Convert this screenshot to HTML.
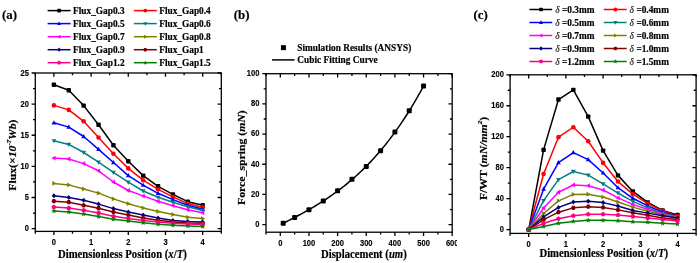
<!DOCTYPE html>
<html><head><meta charset="utf-8"><title>Figure</title>
<style>html,body{margin:0;padding:0;background:#fff;width:700px;height:263px;overflow:hidden}svg{display:block}</style>
</head><body>
<svg width="700" height="263" viewBox="0 0 700 263">
<rect width="700" height="263" fill="#fff"/>
<defs><clipPath id="clipb"><rect x="226" y="0" width="231" height="263"/></clipPath></defs>
<text transform="translate(2 19) scale(0.97 1)" font-family="'Liberation Serif','Times New Roman',serif" font-size="13.3" font-weight="bold" text-anchor="start" stroke="#000" stroke-width="0.2">(a)</text>
<text transform="translate(233.8 19) scale(0.97 1)" font-family="'Liberation Serif','Times New Roman',serif" font-size="13.3" font-weight="bold" text-anchor="start" stroke="#000" stroke-width="0.2">(b)</text>
<text transform="translate(473.5 19) scale(0.97 1)" font-family="'Liberation Serif','Times New Roman',serif" font-size="13.3" font-weight="bold" text-anchor="start" stroke="#000" stroke-width="0.2">(c)</text>
<path d="M47.6 10.6h23" stroke="#000000" stroke-width="1.5"/>
<rect x="57.25" y="8.75" width="3.7" height="3.7" rx="0.74" fill="#000000"/>
<text transform="translate(73 14) scale(0.91 1)" font-family="'Liberation Serif','Times New Roman',serif" font-size="10.26" font-weight="bold" text-anchor="start" stroke="#000" stroke-width="0.2">Flux_Gap0.3</text>
<path d="M133.8 10.6h23" stroke="#FF0000" stroke-width="1.5"/>
<circle cx="145.3" cy="10.6" r="1.94" fill="#FF0000"/>
<text transform="translate(159.2 14) scale(0.91 1)" font-family="'Liberation Serif','Times New Roman',serif" font-size="10.26" font-weight="bold" text-anchor="start" stroke="#000" stroke-width="0.2">Flux_Gap0.4</text>
<path d="M47.6 23.6h23" stroke="#0000FF" stroke-width="1.5"/>
<polygon points="59.1,21.47 61.12,24.98 57.08,24.98" fill="#0000FF"/>
<text transform="translate(73 27) scale(0.91 1)" font-family="'Liberation Serif','Times New Roman',serif" font-size="10.26" font-weight="bold" text-anchor="start" stroke="#000" stroke-width="0.2">Flux_Gap0.5</text>
<path d="M133.8 23.6h23" stroke="#008080" stroke-width="1.5"/>
<polygon points="145.3,25.73 147.32,22.22 143.28,22.22" fill="#008080"/>
<text transform="translate(159.2 27) scale(0.91 1)" font-family="'Liberation Serif','Times New Roman',serif" font-size="10.26" font-weight="bold" text-anchor="start" stroke="#000" stroke-width="0.2">Flux_Gap0.6</text>
<path d="M47.6 36.7h23" stroke="#FF00FF" stroke-width="1.5"/>
<polygon points="56.97,36.7 60.48,38.72 60.48,34.68" fill="#FF00FF"/>
<text transform="translate(73 40.1) scale(0.91 1)" font-family="'Liberation Serif','Times New Roman',serif" font-size="10.26" font-weight="bold" text-anchor="start" stroke="#000" stroke-width="0.2">Flux_Gap0.7</text>
<path d="M133.8 36.7h23" stroke="#808000" stroke-width="1.5"/>
<polygon points="147.43,36.7 143.92,38.72 143.92,34.68" fill="#808000"/>
<text transform="translate(159.2 40.1) scale(0.91 1)" font-family="'Liberation Serif','Times New Roman',serif" font-size="10.26" font-weight="bold" text-anchor="start" stroke="#000" stroke-width="0.2">Flux_Gap0.8</text>
<path d="M47.6 49.7h23" stroke="#000080" stroke-width="1.5"/>
<polygon points="59.1,47.57 60.91,49.7 59.1,51.83 57.29,49.7" fill="#000080"/>
<text transform="translate(73 53.1) scale(0.91 1)" font-family="'Liberation Serif','Times New Roman',serif" font-size="10.26" font-weight="bold" text-anchor="start" stroke="#000" stroke-width="0.2">Flux_Gap0.9</text>
<path d="M133.8 49.7h23" stroke="#800000" stroke-width="1.5"/>
<polygon points="147.34,49.7 146.32,51.46 144.28,51.46 143.27,49.7 144.28,47.94 146.32,47.94" fill="#800000"/>
<text transform="translate(159.2 53.1) scale(0.91 1)" font-family="'Liberation Serif','Times New Roman',serif" font-size="10.26" font-weight="bold" text-anchor="start" stroke="#000" stroke-width="0.2">Flux_Gap1</text>
<path d="M47.6 62.7h23" stroke="#FF0080" stroke-width="1.5"/>
<polygon points="59.1,60.57 61.12,62.04 60.35,64.42 57.85,64.42 57.08,62.04" fill="#FF0080"/>
<text transform="translate(73 66.1) scale(0.91 1)" font-family="'Liberation Serif','Times New Roman',serif" font-size="10.26" font-weight="bold" text-anchor="start" stroke="#000" stroke-width="0.2">Flux_Gap1.2</text>
<path d="M133.8 62.7h23" stroke="#008000" stroke-width="1.5"/>
<polygon points="145.3,60.3 145.9,61.88 147.59,61.96 146.27,63.01 146.71,64.65 145.3,63.72 143.89,64.65 144.33,63.01 143.01,61.96 144.7,61.88" fill="#008000"/>
<text transform="translate(159.2 66.1) scale(0.91 1)" font-family="'Liberation Serif','Times New Roman',serif" font-size="10.26" font-weight="bold" text-anchor="start" stroke="#000" stroke-width="0.2">Flux_Gap1.5</text>
<rect x="35.3" y="73" width="186" height="158.4" fill="none" stroke="#000" stroke-width="1.3"/>
<path d="M53.9 231.4v3.7M53.9 73v3.7M91.1 231.4v3.7M91.1 73v3.7M128.3 231.4v3.7M128.3 73v3.7M165.5 231.4v3.7M165.5 73v3.7M202.7 231.4v3.7M202.7 73v3.7M35.3 231.4v2.3M35.3 73v2.3M72.5 231.4v2.3M72.5 73v2.3M109.7 231.4v2.3M109.7 73v2.3M146.9 231.4v2.3M146.9 73v2.3M184.1 231.4v2.3M184.1 73v2.3M221.3 231.4v2.3M221.3 73v2.3M35.3 228.6h-3.7M221.3 228.6h-3.7M35.3 197.48h-3.7M221.3 197.48h-3.7M35.3 166.36h-3.7M221.3 166.36h-3.7M35.3 135.24h-3.7M221.3 135.24h-3.7M35.3 104.12h-3.7M221.3 104.12h-3.7M35.3 73h-3.7M221.3 73h-3.7M35.3 213.04h-2.3M221.3 213.04h-2.3M35.3 181.92h-2.3M221.3 181.92h-2.3M35.3 150.8h-2.3M221.3 150.8h-2.3M35.3 119.68h-2.3M221.3 119.68h-2.3M35.3 88.56h-2.3M221.3 88.56h-2.3" stroke="#000" stroke-width="1.3" fill="none"/>
<polyline points="53.9,84.8 68.78,90.2 83.66,105.6 98.54,124.8 113.42,145.3 128.3,161.3 143.18,175.6 158.06,186.3 172.94,194.4 187.82,201.7 202.7,205.3" fill="none" stroke="#000000" stroke-width="1.5" stroke-linejoin="round"/>
<rect x="51.7" y="82.6" width="4.4" height="4.4" rx="0.88" fill="#000000"/>
<rect x="66.58" y="88" width="4.4" height="4.4" rx="0.88" fill="#000000"/>
<rect x="81.46" y="103.4" width="4.4" height="4.4" rx="0.88" fill="#000000"/>
<rect x="96.34" y="122.6" width="4.4" height="4.4" rx="0.88" fill="#000000"/>
<rect x="111.22" y="143.1" width="4.4" height="4.4" rx="0.88" fill="#000000"/>
<rect x="126.1" y="159.1" width="4.4" height="4.4" rx="0.88" fill="#000000"/>
<rect x="140.98" y="173.4" width="4.4" height="4.4" rx="0.88" fill="#000000"/>
<rect x="155.86" y="184.1" width="4.4" height="4.4" rx="0.88" fill="#000000"/>
<rect x="170.74" y="192.2" width="4.4" height="4.4" rx="0.88" fill="#000000"/>
<rect x="185.62" y="199.5" width="4.4" height="4.4" rx="0.88" fill="#000000"/>
<rect x="200.5" y="203.1" width="4.4" height="4.4" rx="0.88" fill="#000000"/>
<polyline points="53.9,105.4 68.78,109.9 83.66,121.3 98.54,137.5 113.42,153.7 128.3,168.4 143.18,180.2 158.06,189.3 172.94,196.9 187.82,203.6 202.7,207.4" fill="none" stroke="#FF0000" stroke-width="1.5" stroke-linejoin="round"/>
<circle cx="53.9" cy="105.4" r="2.31" fill="#FF0000"/>
<circle cx="68.78" cy="109.9" r="2.31" fill="#FF0000"/>
<circle cx="83.66" cy="121.3" r="2.31" fill="#FF0000"/>
<circle cx="98.54" cy="137.5" r="2.31" fill="#FF0000"/>
<circle cx="113.42" cy="153.7" r="2.31" fill="#FF0000"/>
<circle cx="128.3" cy="168.4" r="2.31" fill="#FF0000"/>
<circle cx="143.18" cy="180.2" r="2.31" fill="#FF0000"/>
<circle cx="158.06" cy="189.3" r="2.31" fill="#FF0000"/>
<circle cx="172.94" cy="196.9" r="2.31" fill="#FF0000"/>
<circle cx="187.82" cy="203.6" r="2.31" fill="#FF0000"/>
<circle cx="202.7" cy="207.4" r="2.31" fill="#FF0000"/>
<polyline points="53.9,122.8 68.78,127.1 83.66,136.5 98.54,149.4 113.42,162.5 128.3,175.6 143.18,185.2 158.06,193.3 172.94,199.6 187.82,205.2 202.7,209.3" fill="none" stroke="#0000FF" stroke-width="1.5" stroke-linejoin="round"/>
<polygon points="53.9,120.27 56.3,124.44 51.5,124.44" fill="#0000FF"/>
<polygon points="68.78,124.57 71.18,128.74 66.38,128.74" fill="#0000FF"/>
<polygon points="83.66,133.97 86.06,138.14 81.26,138.14" fill="#0000FF"/>
<polygon points="98.54,146.87 100.94,151.04 96.14,151.04" fill="#0000FF"/>
<polygon points="113.42,159.97 115.82,164.14 111.02,164.14" fill="#0000FF"/>
<polygon points="128.3,173.07 130.7,177.24 125.9,177.24" fill="#0000FF"/>
<polygon points="143.18,182.67 145.58,186.84 140.78,186.84" fill="#0000FF"/>
<polygon points="158.06,190.77 160.46,194.94 155.66,194.94" fill="#0000FF"/>
<polygon points="172.94,197.07 175.34,201.24 170.54,201.24" fill="#0000FF"/>
<polygon points="187.82,202.67 190.22,206.84 185.42,206.84" fill="#0000FF"/>
<polygon points="202.7,206.77 205.1,210.94 200.3,210.94" fill="#0000FF"/>
<polyline points="53.9,140.8 68.78,144.4 83.66,152.5 98.54,162.1 113.42,172.4 128.3,182.1 143.18,191 158.06,197.3 172.94,202.2 187.82,206.8 202.7,210.5" fill="none" stroke="#008080" stroke-width="1.5" stroke-linejoin="round"/>
<polygon points="53.9,143.33 56.3,139.16 51.5,139.16" fill="#008080"/>
<polygon points="68.78,146.93 71.18,142.76 66.38,142.76" fill="#008080"/>
<polygon points="83.66,155.03 86.06,150.86 81.26,150.86" fill="#008080"/>
<polygon points="98.54,164.63 100.94,160.46 96.14,160.46" fill="#008080"/>
<polygon points="113.42,174.93 115.82,170.76 111.02,170.76" fill="#008080"/>
<polygon points="128.3,184.63 130.7,180.46 125.9,180.46" fill="#008080"/>
<polygon points="143.18,193.53 145.58,189.36 140.78,189.36" fill="#008080"/>
<polygon points="158.06,199.83 160.46,195.66 155.66,195.66" fill="#008080"/>
<polygon points="172.94,204.73 175.34,200.56 170.54,200.56" fill="#008080"/>
<polygon points="187.82,209.33 190.22,205.16 185.42,205.16" fill="#008080"/>
<polygon points="202.7,213.03 205.1,208.86 200.3,208.86" fill="#008080"/>
<polyline points="53.9,158.1 68.78,159 83.66,163.6 98.54,170.8 113.42,182 128.3,190.5 143.18,195.9 158.06,201.3 172.94,205.7 187.82,209.8 202.7,212.8" fill="none" stroke="#FF00FF" stroke-width="1.5" stroke-linejoin="round"/>
<polygon points="51.37,158.1 55.54,160.5 55.54,155.7" fill="#FF00FF"/>
<polygon points="66.25,159 70.42,161.4 70.42,156.6" fill="#FF00FF"/>
<polygon points="81.13,163.6 85.3,166 85.3,161.2" fill="#FF00FF"/>
<polygon points="96.01,170.8 100.18,173.2 100.18,168.4" fill="#FF00FF"/>
<polygon points="110.89,182 115.06,184.4 115.06,179.6" fill="#FF00FF"/>
<polygon points="125.77,190.5 129.94,192.9 129.94,188.1" fill="#FF00FF"/>
<polygon points="140.65,195.9 144.82,198.3 144.82,193.5" fill="#FF00FF"/>
<polygon points="155.53,201.3 159.7,203.7 159.7,198.9" fill="#FF00FF"/>
<polygon points="170.41,205.7 174.58,208.1 174.58,203.3" fill="#FF00FF"/>
<polygon points="185.29,209.8 189.46,212.2 189.46,207.4" fill="#FF00FF"/>
<polygon points="200.17,212.8 204.34,215.2 204.34,210.4" fill="#FF00FF"/>
<polyline points="53.9,183.4 68.78,184.9 83.66,189 98.54,193.1 113.42,198.9 128.3,203.7 143.18,207.9 158.06,211.5 172.94,214.5 187.82,217.3 202.7,218.6" fill="none" stroke="#808000" stroke-width="1.5" stroke-linejoin="round"/>
<polygon points="56.43,183.4 52.26,185.8 52.26,181" fill="#808000"/>
<polygon points="71.31,184.9 67.14,187.3 67.14,182.5" fill="#808000"/>
<polygon points="86.19,189 82.02,191.4 82.02,186.6" fill="#808000"/>
<polygon points="101.07,193.1 96.9,195.5 96.9,190.7" fill="#808000"/>
<polygon points="115.95,198.9 111.78,201.3 111.78,196.5" fill="#808000"/>
<polygon points="130.83,203.7 126.66,206.1 126.66,201.3" fill="#808000"/>
<polygon points="145.71,207.9 141.54,210.3 141.54,205.5" fill="#808000"/>
<polygon points="160.59,211.5 156.42,213.9 156.42,209.1" fill="#808000"/>
<polygon points="175.47,214.5 171.3,216.9 171.3,212.1" fill="#808000"/>
<polygon points="190.35,217.3 186.18,219.7 186.18,214.9" fill="#808000"/>
<polygon points="205.23,218.6 201.06,221 201.06,216.2" fill="#808000"/>
<polyline points="53.9,195.7 68.78,197.5 83.66,200.2 98.54,204.1 113.42,208.6 128.3,212 143.18,215.1 158.06,218.1 172.94,220.5 187.82,221.5 202.7,222" fill="none" stroke="#000080" stroke-width="1.5" stroke-linejoin="round"/>
<polygon points="53.9,193.17 56.05,195.7 53.9,198.23 51.75,195.7" fill="#000080"/>
<polygon points="68.78,194.97 70.93,197.5 68.78,200.03 66.63,197.5" fill="#000080"/>
<polygon points="83.66,197.67 85.81,200.2 83.66,202.73 81.51,200.2" fill="#000080"/>
<polygon points="98.54,201.57 100.69,204.1 98.54,206.63 96.39,204.1" fill="#000080"/>
<polygon points="113.42,206.07 115.57,208.6 113.42,211.13 111.27,208.6" fill="#000080"/>
<polygon points="128.3,209.47 130.45,212 128.3,214.53 126.15,212" fill="#000080"/>
<polygon points="143.18,212.57 145.33,215.1 143.18,217.63 141.03,215.1" fill="#000080"/>
<polygon points="158.06,215.57 160.21,218.1 158.06,220.63 155.91,218.1" fill="#000080"/>
<polygon points="172.94,217.97 175.09,220.5 172.94,223.03 170.79,220.5" fill="#000080"/>
<polygon points="187.82,218.97 189.97,221.5 187.82,224.03 185.67,221.5" fill="#000080"/>
<polygon points="202.7,219.47 204.85,222 202.7,224.53 200.55,222" fill="#000080"/>
<polyline points="53.9,201.2 68.78,202.2 83.66,205.3 98.54,208.2 113.42,212 128.3,215 143.18,218.1 158.06,220.3 172.94,222 187.82,223 202.7,223.3" fill="none" stroke="#800000" stroke-width="1.5" stroke-linejoin="round"/>
<polygon points="56.32,201.2 55.11,203.3 52.69,203.3 51.48,201.2 52.69,199.1 55.11,199.1" fill="#800000"/>
<polygon points="71.2,202.2 69.99,204.3 67.57,204.3 66.36,202.2 67.57,200.1 69.99,200.1" fill="#800000"/>
<polygon points="86.08,205.3 84.87,207.4 82.45,207.4 81.24,205.3 82.45,203.2 84.87,203.2" fill="#800000"/>
<polygon points="100.96,208.2 99.75,210.3 97.33,210.3 96.12,208.2 97.33,206.1 99.75,206.1" fill="#800000"/>
<polygon points="115.84,212 114.63,214.1 112.21,214.1 111,212 112.21,209.9 114.63,209.9" fill="#800000"/>
<polygon points="130.72,215 129.51,217.1 127.09,217.1 125.88,215 127.09,212.9 129.51,212.9" fill="#800000"/>
<polygon points="145.6,218.1 144.39,220.2 141.97,220.2 140.76,218.1 141.97,216 144.39,216" fill="#800000"/>
<polygon points="160.48,220.3 159.27,222.4 156.85,222.4 155.64,220.3 156.85,218.2 159.27,218.2" fill="#800000"/>
<polygon points="175.36,222 174.15,224.1 171.73,224.1 170.52,222 171.73,219.9 174.15,219.9" fill="#800000"/>
<polygon points="190.24,223 189.03,225.1 186.61,225.1 185.4,223 186.61,220.9 189.03,220.9" fill="#800000"/>
<polygon points="205.12,223.3 203.91,225.4 201.49,225.4 200.28,223.3 201.49,221.2 203.91,221.2" fill="#800000"/>
<polyline points="53.9,207.1 68.78,208.1 83.66,210.2 98.54,212.9 113.42,216.3 128.3,218.5 143.18,220.4 158.06,222 172.94,223.3 187.82,224 202.7,224.4" fill="none" stroke="#FF0080" stroke-width="1.5" stroke-linejoin="round"/>
<polygon points="53.9,204.57 56.31,206.32 55.39,209.15 52.41,209.15 51.49,206.32" fill="#FF0080"/>
<polygon points="68.78,205.57 71.19,207.32 70.27,210.15 67.29,210.15 66.37,207.32" fill="#FF0080"/>
<polygon points="83.66,207.67 86.07,209.42 85.15,212.25 82.17,212.25 81.25,209.42" fill="#FF0080"/>
<polygon points="98.54,210.37 100.95,212.12 100.03,214.95 97.05,214.95 96.13,212.12" fill="#FF0080"/>
<polygon points="113.42,213.77 115.83,215.52 114.91,218.35 111.93,218.35 111.01,215.52" fill="#FF0080"/>
<polygon points="128.3,215.97 130.71,217.72 129.79,220.55 126.81,220.55 125.89,217.72" fill="#FF0080"/>
<polygon points="143.18,217.87 145.59,219.62 144.67,222.45 141.69,222.45 140.77,219.62" fill="#FF0080"/>
<polygon points="158.06,219.47 160.47,221.22 159.55,224.05 156.57,224.05 155.65,221.22" fill="#FF0080"/>
<polygon points="172.94,220.77 175.35,222.52 174.43,225.35 171.45,225.35 170.53,222.52" fill="#FF0080"/>
<polygon points="187.82,221.47 190.23,223.22 189.31,226.05 186.33,226.05 185.41,223.22" fill="#FF0080"/>
<polygon points="202.7,221.87 205.11,223.62 204.19,226.45 201.21,226.45 200.29,223.62" fill="#FF0080"/>
<polyline points="53.9,211 68.78,212 83.66,214 98.54,216.6 113.42,219.3 128.3,221 143.18,222.7 158.06,224.2 172.94,225.3 187.82,226 202.7,226.5" fill="none" stroke="#008000" stroke-width="1.5" stroke-linejoin="round"/>
<polygon points="53.9,208.14 54.61,210.02 56.62,210.12 55.05,211.37 55.58,213.31 53.9,212.21 52.22,213.31 52.75,211.37 51.18,210.12 53.19,210.02" fill="#008000"/>
<polygon points="68.78,209.14 69.49,211.02 71.5,211.12 69.93,212.37 70.46,214.31 68.78,213.21 67.1,214.31 67.63,212.37 66.06,211.12 68.07,211.02" fill="#008000"/>
<polygon points="83.66,211.14 84.37,213.02 86.38,213.12 84.81,214.37 85.34,216.31 83.66,215.21 81.98,216.31 82.51,214.37 80.94,213.12 82.95,213.02" fill="#008000"/>
<polygon points="98.54,213.74 99.25,215.62 101.26,215.72 99.69,216.97 100.22,218.91 98.54,217.81 96.86,218.91 97.39,216.97 95.82,215.72 97.83,215.62" fill="#008000"/>
<polygon points="113.42,216.44 114.13,218.32 116.14,218.42 114.57,219.67 115.1,221.61 113.42,220.51 111.74,221.61 112.27,219.67 110.7,218.42 112.71,218.32" fill="#008000"/>
<polygon points="128.3,218.14 129.01,220.02 131.02,220.12 129.45,221.37 129.98,223.31 128.3,222.21 126.62,223.31 127.15,221.37 125.58,220.12 127.59,220.02" fill="#008000"/>
<polygon points="143.18,219.84 143.89,221.72 145.9,221.82 144.33,223.07 144.86,225.01 143.18,223.91 141.5,225.01 142.03,223.07 140.46,221.82 142.47,221.72" fill="#008000"/>
<polygon points="158.06,221.34 158.77,223.22 160.78,223.32 159.21,224.57 159.74,226.51 158.06,225.41 156.38,226.51 156.91,224.57 155.34,223.32 157.35,223.22" fill="#008000"/>
<polygon points="172.94,222.44 173.65,224.32 175.66,224.42 174.09,225.67 174.62,227.61 172.94,226.51 171.26,227.61 171.79,225.67 170.22,224.42 172.23,224.32" fill="#008000"/>
<polygon points="187.82,223.14 188.53,225.02 190.54,225.12 188.97,226.37 189.5,228.31 187.82,227.21 186.14,228.31 186.67,226.37 185.1,225.12 187.11,225.02" fill="#008000"/>
<polygon points="202.7,223.64 203.41,225.52 205.42,225.62 203.85,226.87 204.38,228.81 202.7,227.71 201.02,228.81 201.55,226.87 199.98,225.62 201.99,225.52" fill="#008000"/>
<text transform="translate(29 231.3) scale(0.84 1)" font-family="'Liberation Sans',Arial,sans-serif" font-size="9" font-weight="bold" text-anchor="end" stroke="#000" stroke-width="0.15">0</text>
<text transform="translate(29 200.18) scale(0.84 1)" font-family="'Liberation Sans',Arial,sans-serif" font-size="9" font-weight="bold" text-anchor="end" stroke="#000" stroke-width="0.15">5</text>
<text transform="translate(29 169.06) scale(0.84 1)" font-family="'Liberation Sans',Arial,sans-serif" font-size="9" font-weight="bold" text-anchor="end" stroke="#000" stroke-width="0.15">10</text>
<text transform="translate(29 137.94) scale(0.84 1)" font-family="'Liberation Sans',Arial,sans-serif" font-size="9" font-weight="bold" text-anchor="end" stroke="#000" stroke-width="0.15">15</text>
<text transform="translate(29 106.82) scale(0.84 1)" font-family="'Liberation Sans',Arial,sans-serif" font-size="9" font-weight="bold" text-anchor="end" stroke="#000" stroke-width="0.15">20</text>
<text transform="translate(29 75.7) scale(0.84 1)" font-family="'Liberation Sans',Arial,sans-serif" font-size="9" font-weight="bold" text-anchor="end" stroke="#000" stroke-width="0.15">25</text>
<text transform="translate(53.9 244.7) scale(0.84 1)" font-family="'Liberation Sans',Arial,sans-serif" font-size="9" font-weight="bold" text-anchor="middle" stroke="#000" stroke-width="0.15">0</text>
<text transform="translate(91.1 244.7) scale(0.84 1)" font-family="'Liberation Sans',Arial,sans-serif" font-size="9" font-weight="bold" text-anchor="middle" stroke="#000" stroke-width="0.15">1</text>
<text transform="translate(128.3 244.7) scale(0.84 1)" font-family="'Liberation Sans',Arial,sans-serif" font-size="9" font-weight="bold" text-anchor="middle" stroke="#000" stroke-width="0.15">2</text>
<text transform="translate(165.5 244.7) scale(0.84 1)" font-family="'Liberation Sans',Arial,sans-serif" font-size="9" font-weight="bold" text-anchor="middle" stroke="#000" stroke-width="0.15">3</text>
<text transform="translate(202.7 244.7) scale(0.84 1)" font-family="'Liberation Sans',Arial,sans-serif" font-size="9" font-weight="bold" text-anchor="middle" stroke="#000" stroke-width="0.15">4</text>
<text transform="translate(122.35 258.3) scale(0.91 1)" font-family="'Liberation Serif','Times New Roman',serif" font-size="11.75" font-weight="bold" text-anchor="middle" stroke="#000" stroke-width="0.2">Dimensionless Position (<tspan font-style="italic">x</tspan>/<tspan font-style="italic">T</tspan>)</text>
<text transform="translate(16.1 155.1) rotate(-90) scale(1 0.91)" font-family="'Liberation Serif','Times New Roman',serif" font-size="11.75" font-weight="bold" text-anchor="middle" stroke="#000" stroke-width="0.2">Flux(×<tspan font-style="italic">10</tspan><tspan font-style="italic" font-size="7" dy="-5.5">-7</tspan><tspan font-style="italic" dy="5.5">Wb</tspan>)</text>
<g clip-path="url(#clipb)">
<rect x="280.95" y="45.15" width="5" height="5" fill="#000"/>
<text transform="translate(297.3 51) scale(0.91 1)" font-family="'Liberation Serif','Times New Roman',serif" font-size="10.26" font-weight="bold" text-anchor="start" stroke="#000" stroke-width="0.2">Simulation Results (ANSYS)</text>
<path d="M272 59.9h22.6" stroke="#000" stroke-width="1.5"/>
<text transform="translate(297.3 63.4) scale(0.91 1)" font-family="'Liberation Serif','Times New Roman',serif" font-size="10.26" font-weight="bold" text-anchor="start" stroke="#000" stroke-width="0.2">Cubic Fitting Curve</text>
<rect x="266" y="73.7" width="186.2" height="158.5" fill="none" stroke="#000" stroke-width="1.3"/>
<path d="M280.32 232.2v3.7M280.32 73.7v3.7M308.97 232.2v3.7M308.97 73.7v3.7M337.62 232.2v3.7M337.62 73.7v3.7M366.26 232.2v3.7M366.26 73.7v3.7M394.91 232.2v3.7M394.91 73.7v3.7M423.55 232.2v3.7M423.55 73.7v3.7M452.2 232.2v3.7M452.2 73.7v3.7M266 232.2v2.3M266 73.7v2.3M294.65 232.2v2.3M294.65 73.7v2.3M323.29 232.2v2.3M323.29 73.7v2.3M351.94 232.2v2.3M351.94 73.7v2.3M380.58 232.2v2.3M380.58 73.7v2.3M409.23 232.2v2.3M409.23 73.7v2.3M437.88 232.2v2.3M437.88 73.7v2.3M266 224.65h-3.7M452.2 224.65h-3.7M266 194.46h-3.7M452.2 194.46h-3.7M266 164.27h-3.7M452.2 164.27h-3.7M266 134.08h-3.7M452.2 134.08h-3.7M266 103.89h-3.7M452.2 103.89h-3.7M266 73.7h-3.7M452.2 73.7h-3.7M266 209.56h-2.3M452.2 209.56h-2.3M266 179.37h-2.3M452.2 179.37h-2.3M266 149.18h-2.3M452.2 149.18h-2.3M266 118.99h-2.3M452.2 118.99h-2.3M266 88.8h-2.3M452.2 88.8h-2.3" stroke="#000" stroke-width="1.3" fill="none"/>
<polyline points="283.19,223.31 284.96,222.41 286.74,221.51 288.52,220.6 290.29,219.69 292.07,218.77 293.85,217.84 295.63,216.91 297.4,215.97 299.18,215.02 300.96,214.06 302.73,213.1 304.51,212.12 306.29,211.13 308.06,210.13 309.84,209.11 311.62,208.09 313.39,207.04 315.17,205.99 316.95,204.92 318.72,203.83 320.5,202.72 322.28,201.6 324.05,200.46 325.83,199.3 327.61,198.12 329.38,196.92 331.16,195.7 332.94,194.46 334.71,193.19 336.49,191.9 338.27,190.59 340.04,189.26 341.82,187.89 343.6,186.51 345.38,185.09 347.15,183.65 348.93,182.18 350.71,180.69 352.48,179.16 354.26,177.6 356.04,176.01 357.81,174.39 359.59,172.74 361.37,171.06 363.14,169.34 364.92,167.59 366.7,165.8 368.47,163.98 370.25,162.12 372.03,160.23 373.8,158.3 375.58,156.33 377.36,154.32 379.13,152.27 380.91,150.18 382.69,148.04 384.46,145.87 386.24,143.66 388.02,141.4 389.79,139.09 391.57,136.75 393.35,134.36 395.13,131.92 396.9,129.43 398.68,126.9 400.46,124.32 402.23,121.69 404.01,119.01 405.79,116.28 407.56,113.51 409.34,110.67 411.12,107.79 412.89,104.86 414.67,101.87 416.45,98.82 418.22,95.73 420,92.57 421.78,89.36 423.55,86.09" fill="none" stroke="#000" stroke-width="1.5" stroke-linejoin="round"/>
<rect x="280.69" y="220.64" width="5" height="5" rx="1" fill="#000"/>
<rect x="292.15" y="215.06" width="5" height="5" rx="1" fill="#000"/>
<rect x="306.47" y="207.36" width="5" height="5" rx="1" fill="#000"/>
<rect x="320.79" y="198.45" width="5" height="5" rx="1" fill="#000"/>
<rect x="335.12" y="188.34" width="5" height="5" rx="1" fill="#000"/>
<rect x="349.44" y="176.87" width="5" height="5" rx="1" fill="#000"/>
<rect x="363.76" y="163.88" width="5" height="5" rx="1" fill="#000"/>
<rect x="378.08" y="148.34" width="5" height="5" rx="1" fill="#000"/>
<rect x="392.41" y="129.62" width="5" height="5" rx="1" fill="#000"/>
<rect x="406.73" y="108.33" width="5" height="5" rx="1" fill="#000"/>
<rect x="421.05" y="83.58" width="5" height="5" rx="1" fill="#000"/>
<text transform="translate(259.4 227.05) scale(0.84 1)" font-family="'Liberation Sans',Arial,sans-serif" font-size="9" font-weight="bold" text-anchor="end" stroke="#000" stroke-width="0.15">0</text>
<text transform="translate(259.4 196.86) scale(0.84 1)" font-family="'Liberation Sans',Arial,sans-serif" font-size="9" font-weight="bold" text-anchor="end" stroke="#000" stroke-width="0.15">20</text>
<text transform="translate(259.4 166.67) scale(0.84 1)" font-family="'Liberation Sans',Arial,sans-serif" font-size="9" font-weight="bold" text-anchor="end" stroke="#000" stroke-width="0.15">40</text>
<text transform="translate(259.4 136.48) scale(0.84 1)" font-family="'Liberation Sans',Arial,sans-serif" font-size="9" font-weight="bold" text-anchor="end" stroke="#000" stroke-width="0.15">60</text>
<text transform="translate(259.4 106.29) scale(0.84 1)" font-family="'Liberation Sans',Arial,sans-serif" font-size="9" font-weight="bold" text-anchor="end" stroke="#000" stroke-width="0.15">80</text>
<text transform="translate(259.4 76.1) scale(0.84 1)" font-family="'Liberation Sans',Arial,sans-serif" font-size="9" font-weight="bold" text-anchor="end" stroke="#000" stroke-width="0.15">100</text>
<text transform="translate(280.32 245.9) scale(0.84 1)" font-family="'Liberation Sans',Arial,sans-serif" font-size="9" font-weight="bold" text-anchor="middle" stroke="#000" stroke-width="0.15">0</text>
<text transform="translate(308.97 245.9) scale(0.84 1)" font-family="'Liberation Sans',Arial,sans-serif" font-size="9" font-weight="bold" text-anchor="middle" stroke="#000" stroke-width="0.15">100</text>
<text transform="translate(337.62 245.9) scale(0.84 1)" font-family="'Liberation Sans',Arial,sans-serif" font-size="9" font-weight="bold" text-anchor="middle" stroke="#000" stroke-width="0.15">200</text>
<text transform="translate(366.26 245.9) scale(0.84 1)" font-family="'Liberation Sans',Arial,sans-serif" font-size="9" font-weight="bold" text-anchor="middle" stroke="#000" stroke-width="0.15">300</text>
<text transform="translate(394.91 245.9) scale(0.84 1)" font-family="'Liberation Sans',Arial,sans-serif" font-size="9" font-weight="bold" text-anchor="middle" stroke="#000" stroke-width="0.15">400</text>
<text transform="translate(423.55 245.9) scale(0.84 1)" font-family="'Liberation Sans',Arial,sans-serif" font-size="9" font-weight="bold" text-anchor="middle" stroke="#000" stroke-width="0.15">500</text>
<text transform="translate(452.2 245.9) scale(0.84 1)" font-family="'Liberation Sans',Arial,sans-serif" font-size="9" font-weight="bold" text-anchor="middle" stroke="#000" stroke-width="0.15">600</text>
<text transform="translate(363.85 257.9) scale(0.91 1)" font-family="'Liberation Serif','Times New Roman',serif" font-size="11.75" font-weight="bold" text-anchor="middle" stroke="#000" stroke-width="0.2">Displacement (<tspan font-style="italic">um</tspan>)</text>
<text transform="translate(245.4 157.6) rotate(-90) scale(1 0.91)" font-family="'Liberation Serif','Times New Roman',serif" font-size="11.75" font-weight="bold" text-anchor="middle" stroke="#000" stroke-width="0.2">Force_spring (<tspan font-style="italic">mN</tspan>)</text>
</g>
<path d="M529.4 9.5h22.8" stroke="#000000" stroke-width="1.5"/>
<rect x="539.15" y="7.65" width="3.7" height="3.7" rx="0.74" fill="#000000"/>
<text transform="translate(555.2 13.3) scale(0.91 1)" font-family="'Liberation Serif','Times New Roman',serif" font-size="10.26" font-weight="bold" text-anchor="start" stroke="#000" stroke-width="0.2"><tspan font-style="italic" font-weight="normal" stroke-width="0.1">δ</tspan><tspan dx="2.7">=0.3mm</tspan></text>
<path d="M603.8 9.5h22.8" stroke="#FF0000" stroke-width="1.5"/>
<circle cx="615.4" cy="9.5" r="1.94" fill="#FF0000"/>
<text transform="translate(629.6 13.3) scale(0.91 1)" font-family="'Liberation Serif','Times New Roman',serif" font-size="10.26" font-weight="bold" text-anchor="start" stroke="#000" stroke-width="0.2"><tspan font-style="italic" font-weight="normal" stroke-width="0.1">δ</tspan><tspan dx="2.7">=0.4mm</tspan></text>
<path d="M529.4 22.5h22.8" stroke="#0000FF" stroke-width="1.5"/>
<polygon points="541,20.37 543.02,23.88 538.98,23.88" fill="#0000FF"/>
<text transform="translate(555.2 26.3) scale(0.91 1)" font-family="'Liberation Serif','Times New Roman',serif" font-size="10.26" font-weight="bold" text-anchor="start" stroke="#000" stroke-width="0.2"><tspan font-style="italic" font-weight="normal" stroke-width="0.1">δ</tspan><tspan dx="2.7">=0.5mm</tspan></text>
<path d="M603.8 22.5h22.8" stroke="#008080" stroke-width="1.5"/>
<polygon points="615.4,24.63 617.42,21.12 613.38,21.12" fill="#008080"/>
<text transform="translate(629.6 26.3) scale(0.91 1)" font-family="'Liberation Serif','Times New Roman',serif" font-size="10.26" font-weight="bold" text-anchor="start" stroke="#000" stroke-width="0.2"><tspan font-style="italic" font-weight="normal" stroke-width="0.1">δ</tspan><tspan dx="2.7">=0.6mm</tspan></text>
<path d="M529.4 35.5h22.8" stroke="#FF00FF" stroke-width="1.5"/>
<polygon points="538.87,35.5 542.38,37.52 542.38,33.48" fill="#FF00FF"/>
<text transform="translate(555.2 39.3) scale(0.91 1)" font-family="'Liberation Serif','Times New Roman',serif" font-size="10.26" font-weight="bold" text-anchor="start" stroke="#000" stroke-width="0.2"><tspan font-style="italic" font-weight="normal" stroke-width="0.1">δ</tspan><tspan dx="2.7">=0.7mm</tspan></text>
<path d="M603.8 35.5h22.8" stroke="#808000" stroke-width="1.5"/>
<polygon points="617.53,35.5 614.02,37.52 614.02,33.48" fill="#808000"/>
<text transform="translate(629.6 39.3) scale(0.91 1)" font-family="'Liberation Serif','Times New Roman',serif" font-size="10.26" font-weight="bold" text-anchor="start" stroke="#000" stroke-width="0.2"><tspan font-style="italic" font-weight="normal" stroke-width="0.1">δ</tspan><tspan dx="2.7">=0.8mm</tspan></text>
<path d="M529.4 48.5h22.8" stroke="#000080" stroke-width="1.5"/>
<polygon points="541,46.37 542.81,48.5 541,50.63 539.19,48.5" fill="#000080"/>
<text transform="translate(555.2 52.3) scale(0.91 1)" font-family="'Liberation Serif','Times New Roman',serif" font-size="10.26" font-weight="bold" text-anchor="start" stroke="#000" stroke-width="0.2"><tspan font-style="italic" font-weight="normal" stroke-width="0.1">δ</tspan><tspan dx="2.7">=0.9mm</tspan></text>
<path d="M603.8 48.5h22.8" stroke="#800000" stroke-width="1.5"/>
<polygon points="617.43,48.5 616.42,50.26 614.38,50.26 613.37,48.5 614.38,46.74 616.42,46.74" fill="#800000"/>
<text transform="translate(629.6 52.3) scale(0.91 1)" font-family="'Liberation Serif','Times New Roman',serif" font-size="10.26" font-weight="bold" text-anchor="start" stroke="#000" stroke-width="0.2"><tspan font-style="italic" font-weight="normal" stroke-width="0.1">δ</tspan><tspan dx="2.7">=1.0mm</tspan></text>
<path d="M529.4 61.5h22.8" stroke="#FF0080" stroke-width="1.5"/>
<polygon points="541,59.37 543.02,60.84 542.25,63.22 539.75,63.22 538.98,60.84" fill="#FF0080"/>
<text transform="translate(555.2 65.3) scale(0.91 1)" font-family="'Liberation Serif','Times New Roman',serif" font-size="10.26" font-weight="bold" text-anchor="start" stroke="#000" stroke-width="0.2"><tspan font-style="italic" font-weight="normal" stroke-width="0.1">δ</tspan><tspan dx="2.7">=1.2mm</tspan></text>
<path d="M603.8 61.5h22.8" stroke="#008000" stroke-width="1.5"/>
<polygon points="615.4,59.09 616,60.68 617.69,60.76 616.37,61.81 616.81,63.45 615.4,62.52 613.99,63.45 614.43,61.81 613.11,60.76 614.8,60.68" fill="#008000"/>
<text transform="translate(629.6 65.3) scale(0.91 1)" font-family="'Liberation Serif','Times New Roman',serif" font-size="10.26" font-weight="bold" text-anchor="start" stroke="#000" stroke-width="0.2"><tspan font-style="italic" font-weight="normal" stroke-width="0.1">δ</tspan><tspan dx="2.7">=1.5mm</tspan></text>
<rect x="510.1" y="74.8" width="186" height="158.6" fill="none" stroke="#000" stroke-width="1.3"/>
<path d="M528.7 233.4v3.7M528.7 74.8v3.7M565.9 233.4v3.7M565.9 74.8v3.7M603.1 233.4v3.7M603.1 74.8v3.7M640.3 233.4v3.7M640.3 74.8v3.7M677.5 233.4v3.7M677.5 74.8v3.7M510.1 233.4v2.3M510.1 74.8v2.3M547.3 233.4v2.3M547.3 74.8v2.3M584.5 233.4v2.3M584.5 74.8v2.3M621.7 233.4v2.3M621.7 74.8v2.3M658.9 233.4v2.3M658.9 74.8v2.3M696.1 233.4v2.3M696.1 74.8v2.3M510.1 229.53h-3.7M696.1 229.53h-3.7M510.1 198.59h-3.7M696.1 198.59h-3.7M510.1 167.64h-3.7M696.1 167.64h-3.7M510.1 136.69h-3.7M696.1 136.69h-3.7M510.1 105.75h-3.7M696.1 105.75h-3.7M510.1 74.8h-3.7M696.1 74.8h-3.7M510.1 214.06h-2.3M696.1 214.06h-2.3M510.1 183.11h-2.3M696.1 183.11h-2.3M510.1 152.17h-2.3M696.1 152.17h-2.3M510.1 121.22h-2.3M696.1 121.22h-2.3M510.1 90.27h-2.3M696.1 90.27h-2.3" stroke="#000" stroke-width="1.3" fill="none"/>
<polyline points="528.7,229.53 543.58,149.84 558.46,99.56 573.34,89.89 588.22,116.58 603.1,150.62 617.98,175.38 632.86,191.47 647.74,202.45 662.62,210.42 677.5,214.99" fill="none" stroke="#000000" stroke-width="1.5" stroke-linejoin="round"/>
<rect x="526.5" y="227.33" width="4.4" height="4.4" rx="0.88" fill="#000000"/>
<rect x="541.38" y="147.64" width="4.4" height="4.4" rx="0.88" fill="#000000"/>
<rect x="556.26" y="97.36" width="4.4" height="4.4" rx="0.88" fill="#000000"/>
<rect x="571.14" y="87.69" width="4.4" height="4.4" rx="0.88" fill="#000000"/>
<rect x="586.02" y="114.38" width="4.4" height="4.4" rx="0.88" fill="#000000"/>
<rect x="600.9" y="148.42" width="4.4" height="4.4" rx="0.88" fill="#000000"/>
<rect x="615.78" y="173.18" width="4.4" height="4.4" rx="0.88" fill="#000000"/>
<rect x="630.66" y="189.27" width="4.4" height="4.4" rx="0.88" fill="#000000"/>
<rect x="645.54" y="200.25" width="4.4" height="4.4" rx="0.88" fill="#000000"/>
<rect x="660.42" y="208.22" width="4.4" height="4.4" rx="0.88" fill="#000000"/>
<rect x="675.3" y="212.79" width="4.4" height="4.4" rx="0.88" fill="#000000"/>
<polyline points="528.7,229.53 543.58,173.98 558.46,137.16 573.34,127.25 588.22,141.26 603.1,162.92 617.98,181.56 632.86,194.18 647.74,203.61 662.62,210.96 677.5,215.99" fill="none" stroke="#FF0000" stroke-width="1.5" stroke-linejoin="round"/>
<circle cx="528.7" cy="229.53" r="2.31" fill="#FF0000"/>
<circle cx="543.58" cy="173.98" r="2.31" fill="#FF0000"/>
<circle cx="558.46" cy="137.16" r="2.31" fill="#FF0000"/>
<circle cx="573.34" cy="127.25" r="2.31" fill="#FF0000"/>
<circle cx="588.22" cy="141.26" r="2.31" fill="#FF0000"/>
<circle cx="603.1" cy="162.92" r="2.31" fill="#FF0000"/>
<circle cx="617.98" cy="181.56" r="2.31" fill="#FF0000"/>
<circle cx="632.86" cy="194.18" r="2.31" fill="#FF0000"/>
<circle cx="647.74" cy="203.61" r="2.31" fill="#FF0000"/>
<circle cx="662.62" cy="210.96" r="2.31" fill="#FF0000"/>
<circle cx="677.5" cy="215.99" r="2.31" fill="#FF0000"/>
<polyline points="528.7,229.53 543.58,189.15 558.46,162.61 573.34,152.63 588.22,159.59 603.1,172.98 617.98,187.68 632.86,198.28 647.74,205.86 662.62,212.2 677.5,216.22" fill="none" stroke="#0000FF" stroke-width="1.5" stroke-linejoin="round"/>
<polygon points="528.7,227 531.1,231.18 526.3,231.18" fill="#0000FF"/>
<polygon points="543.58,186.62 545.98,190.79 541.18,190.79" fill="#0000FF"/>
<polygon points="558.46,160.08 560.86,164.25 556.06,164.25" fill="#0000FF"/>
<polygon points="573.34,150.1 575.74,154.27 570.94,154.27" fill="#0000FF"/>
<polygon points="588.22,157.06 590.62,161.24 585.82,161.24" fill="#0000FF"/>
<polygon points="603.1,170.45 605.5,174.62 600.7,174.62" fill="#0000FF"/>
<polygon points="617.98,185.15 620.38,189.32 615.58,189.32" fill="#0000FF"/>
<polygon points="632.86,195.75 635.26,199.92 630.46,199.92" fill="#0000FF"/>
<polygon points="647.74,203.33 650.14,207.5 645.34,207.5" fill="#0000FF"/>
<polygon points="662.62,209.67 665.02,213.85 660.22,213.85" fill="#0000FF"/>
<polygon points="677.5,213.69 679.9,217.87 675.1,217.87" fill="#0000FF"/>
<polyline points="528.7,229.53 543.58,200.6 558.46,179.63 573.34,171.51 588.22,175.14 603.1,183.89 617.98,193.02 632.86,201.37 647.74,207.87 662.62,213.28 677.5,216.77" fill="none" stroke="#008080" stroke-width="1.5" stroke-linejoin="round"/>
<polygon points="528.7,232.06 531.1,227.89 526.3,227.89" fill="#008080"/>
<polygon points="543.58,203.13 545.98,198.95 541.18,198.95" fill="#008080"/>
<polygon points="558.46,182.16 560.86,177.99 556.06,177.99" fill="#008080"/>
<polygon points="573.34,174.04 575.74,169.86 570.94,169.86" fill="#008080"/>
<polygon points="588.22,177.67 590.62,173.5 585.82,173.5" fill="#008080"/>
<polygon points="603.1,186.42 605.5,182.24 600.7,182.24" fill="#008080"/>
<polygon points="617.98,195.55 620.38,191.37 615.58,191.37" fill="#008080"/>
<polygon points="632.86,203.9 635.26,199.73 630.46,199.73" fill="#008080"/>
<polygon points="647.74,210.4 650.14,206.22 645.34,206.22" fill="#008080"/>
<polygon points="662.62,215.81 665.02,211.64 660.22,211.64" fill="#008080"/>
<polygon points="677.5,219.3 679.9,215.12 675.1,215.12" fill="#008080"/>
<polyline points="528.7,229.53 543.58,208.02 558.46,192.24 573.34,184.97 588.22,185.67 603.1,190 617.98,197.89 632.86,204.39 647.74,209.57 662.62,214.06 677.5,217.15" fill="none" stroke="#FF00FF" stroke-width="1.5" stroke-linejoin="round"/>
<polygon points="526.17,229.53 530.34,231.94 530.34,227.13" fill="#FF00FF"/>
<polygon points="541.05,208.02 545.22,210.43 545.22,205.62" fill="#FF00FF"/>
<polygon points="555.93,192.24 560.1,194.64 560.1,189.84" fill="#FF00FF"/>
<polygon points="570.81,184.97 574.98,187.37 574.98,182.57" fill="#FF00FF"/>
<polygon points="585.69,185.67 589.86,188.07 589.86,183.26" fill="#FF00FF"/>
<polygon points="600.57,190 604.74,192.4 604.74,187.59" fill="#FF00FF"/>
<polygon points="615.45,197.89 619.62,200.29 619.62,195.49" fill="#FF00FF"/>
<polygon points="630.33,204.39 634.5,206.79 634.5,201.98" fill="#FF00FF"/>
<polygon points="645.21,209.57 649.38,211.97 649.38,207.17" fill="#FF00FF"/>
<polygon points="660.09,214.06 664.26,216.46 664.26,211.66" fill="#FF00FF"/>
<polygon points="674.97,217.15 679.14,219.56 679.14,214.75" fill="#FF00FF"/>
<polyline points="528.7,229.53 543.58,213.52 558.46,200.83 573.34,194.41 588.22,194.25 603.1,197.04 617.98,201.99 632.86,207.1 647.74,211.2 662.62,214.83 677.5,217.54" fill="none" stroke="#808000" stroke-width="1.5" stroke-linejoin="round"/>
<polygon points="531.23,229.53 527.06,231.94 527.06,227.13" fill="#808000"/>
<polygon points="546.11,213.52 541.94,215.92 541.94,211.11" fill="#808000"/>
<polygon points="560.99,200.83 556.82,203.23 556.82,198.43" fill="#808000"/>
<polygon points="575.87,194.41 571.7,196.81 571.7,192" fill="#808000"/>
<polygon points="590.75,194.25 586.58,196.66 586.58,191.85" fill="#808000"/>
<polygon points="605.63,197.04 601.46,199.44 601.46,194.63" fill="#808000"/>
<polygon points="620.51,201.99 616.34,204.39 616.34,199.59" fill="#808000"/>
<polygon points="635.39,207.1 631.22,209.5 631.22,204.69" fill="#808000"/>
<polygon points="650.27,211.2 646.1,213.6 646.1,208.79" fill="#808000"/>
<polygon points="665.15,214.83 660.98,217.24 660.98,212.43" fill="#808000"/>
<polygon points="680.03,217.54 675.86,219.94 675.86,215.14" fill="#808000"/>
<polyline points="528.7,229.53 543.58,216.92 558.46,207.41 573.34,201.99 588.22,201.29 603.1,202.61 617.98,206.01 632.86,210.42 647.74,213.13 662.62,215.68 677.5,218" fill="none" stroke="#000080" stroke-width="1.5" stroke-linejoin="round"/>
<polygon points="528.7,227 530.85,229.53 528.7,232.06 526.55,229.53" fill="#000080"/>
<polygon points="543.58,214.39 545.73,216.92 543.58,219.45 541.43,216.92" fill="#000080"/>
<polygon points="558.46,204.88 560.61,207.41 558.46,209.94 556.31,207.41" fill="#000080"/>
<polygon points="573.34,199.46 575.49,201.99 573.34,204.52 571.19,201.99" fill="#000080"/>
<polygon points="588.22,198.76 590.37,201.29 588.22,203.82 586.07,201.29" fill="#000080"/>
<polygon points="603.1,200.08 605.25,202.61 603.1,205.14 600.95,202.61" fill="#000080"/>
<polygon points="617.98,203.48 620.13,206.01 617.98,208.54 615.83,206.01" fill="#000080"/>
<polygon points="632.86,207.89 635.01,210.42 632.86,212.95 630.71,210.42" fill="#000080"/>
<polygon points="647.74,210.6 649.89,213.13 647.74,215.66 645.59,213.13" fill="#000080"/>
<polygon points="662.62,213.15 664.77,215.68 662.62,218.21 660.47,215.68" fill="#000080"/>
<polygon points="677.5,215.47 679.65,218 677.5,220.53 675.35,218" fill="#000080"/>
<polyline points="528.7,229.53 543.58,219.55 558.46,212.2 573.34,207.87 588.22,206.63 603.1,207.41 617.98,209.88 632.86,212.74 647.74,215.3 662.62,218 677.5,219.55" fill="none" stroke="#800000" stroke-width="1.5" stroke-linejoin="round"/>
<polygon points="531.12,229.53 529.91,231.63 527.49,231.63 526.28,229.53 527.49,227.44 529.91,227.44" fill="#800000"/>
<polygon points="546,219.55 544.79,221.65 542.37,221.65 541.16,219.55 542.37,217.46 544.79,217.46" fill="#800000"/>
<polygon points="560.88,212.2 559.67,214.3 557.25,214.3 556.04,212.2 557.25,210.11 559.67,210.11" fill="#800000"/>
<polygon points="575.76,207.87 574.55,209.97 572.13,209.97 570.92,207.87 572.13,205.77 574.55,205.77" fill="#800000"/>
<polygon points="590.64,206.63 589.43,208.73 587.01,208.73 585.8,206.63 587.01,204.54 589.43,204.54" fill="#800000"/>
<polygon points="605.52,207.41 604.31,209.5 601.89,209.5 600.68,207.41 601.89,205.31 604.31,205.31" fill="#800000"/>
<polygon points="620.4,209.88 619.19,211.98 616.77,211.98 615.56,209.88 616.77,207.78 619.19,207.78" fill="#800000"/>
<polygon points="635.28,212.74 634.07,214.84 631.65,214.84 630.44,212.74 631.65,210.65 634.07,210.65" fill="#800000"/>
<polygon points="650.16,215.3 648.95,217.39 646.53,217.39 645.32,215.3 646.53,213.2 648.95,213.2" fill="#800000"/>
<polygon points="665.04,218 663.83,220.1 661.41,220.1 660.2,218 661.41,215.91 663.83,215.91" fill="#800000"/>
<polygon points="679.92,219.55 678.71,221.65 676.29,221.65 675.08,219.55 676.29,217.46 678.71,217.46" fill="#800000"/>
<polyline points="528.7,229.53 543.58,223.34 558.46,218.78 573.34,215.68 588.22,214.21 603.1,214.21 617.98,214.99 632.86,216.53 647.74,218 662.62,219.55 677.5,221.02" fill="none" stroke="#FF0080" stroke-width="1.5" stroke-linejoin="round"/>
<polygon points="528.7,227 531.11,228.75 530.19,231.58 527.21,231.58 526.29,228.75" fill="#FF0080"/>
<polygon points="543.58,220.81 545.99,222.56 545.07,225.39 542.09,225.39 541.17,222.56" fill="#FF0080"/>
<polygon points="558.46,216.25 560.87,218 559.95,220.82 556.97,220.82 556.05,218" fill="#FF0080"/>
<polygon points="573.34,213.15 575.75,214.9 574.83,217.73 571.85,217.73 570.93,214.9" fill="#FF0080"/>
<polygon points="588.22,211.68 590.63,213.43 589.71,216.26 586.73,216.26 585.81,213.43" fill="#FF0080"/>
<polygon points="603.1,211.68 605.51,213.43 604.59,216.26 601.61,216.26 600.69,213.43" fill="#FF0080"/>
<polygon points="617.98,212.46 620.39,214.21 619.47,217.03 616.49,217.03 615.57,214.21" fill="#FF0080"/>
<polygon points="632.86,214 635.27,215.75 634.35,218.58 631.37,218.58 630.45,215.75" fill="#FF0080"/>
<polygon points="647.74,215.47 650.15,217.22 649.23,220.05 646.25,220.05 645.33,217.22" fill="#FF0080"/>
<polygon points="662.62,217.02 665.03,218.77 664.11,221.6 661.13,221.6 660.21,218.77" fill="#FF0080"/>
<polygon points="677.5,218.49 679.91,220.24 678.99,223.07 676.01,223.07 675.09,220.24" fill="#FF0080"/>
<polyline points="528.7,229.53 543.58,226.44 558.46,223.34 573.34,221.41 588.22,220.33 603.1,220.33 617.98,220.71 632.86,221.8 647.74,222.26 662.62,223.34 677.5,224.12" fill="none" stroke="#008000" stroke-width="1.5" stroke-linejoin="round"/>
<polygon points="528.7,226.67 529.41,228.55 531.42,228.65 529.85,229.91 530.38,231.85 528.7,230.74 527.02,231.85 527.55,229.91 525.98,228.65 527.99,228.55" fill="#008000"/>
<polygon points="543.58,223.58 544.29,225.46 546.3,225.55 544.73,226.81 545.26,228.75 543.58,227.65 541.9,228.75 542.43,226.81 540.86,225.55 542.87,225.46" fill="#008000"/>
<polygon points="558.46,220.48 559.17,222.36 561.18,222.46 559.61,223.72 560.14,225.66 558.46,224.55 556.78,225.66 557.31,223.72 555.74,222.46 557.75,222.36" fill="#008000"/>
<polygon points="573.34,218.55 574.05,220.43 576.06,220.52 574.49,221.78 575.02,223.72 573.34,222.62 571.66,223.72 572.19,221.78 570.62,220.52 572.63,220.43" fill="#008000"/>
<polygon points="588.22,217.47 588.93,219.35 590.94,219.44 589.37,220.7 589.9,222.64 588.22,221.54 586.54,222.64 587.07,220.7 585.5,219.44 587.51,219.35" fill="#008000"/>
<polygon points="603.1,217.47 603.81,219.35 605.82,219.44 604.25,220.7 604.78,222.64 603.1,221.54 601.42,222.64 601.95,220.7 600.38,219.44 602.39,219.35" fill="#008000"/>
<polygon points="617.98,217.85 618.69,219.73 620.7,219.83 619.13,221.09 619.66,223.03 617.98,221.92 616.3,223.03 616.83,221.09 615.26,219.83 617.27,219.73" fill="#008000"/>
<polygon points="632.86,218.94 633.57,220.82 635.58,220.91 634.01,222.17 634.54,224.11 632.86,223.01 631.18,224.11 631.71,222.17 630.14,220.91 632.15,220.82" fill="#008000"/>
<polygon points="647.74,219.4 648.45,221.28 650.46,221.38 648.89,222.63 649.42,224.57 647.74,223.47 646.06,224.57 646.59,222.63 645.02,221.38 647.03,221.28" fill="#008000"/>
<polygon points="662.62,220.48 663.33,222.36 665.34,222.46 663.77,223.72 664.3,225.66 662.62,224.55 660.94,225.66 661.47,223.72 659.9,222.46 661.91,222.36" fill="#008000"/>
<polygon points="677.5,221.26 678.21,223.14 680.22,223.23 678.65,224.49 679.18,226.43 677.5,225.33 675.82,226.43 676.35,224.49 674.78,223.23 676.79,223.14" fill="#008000"/>
<text transform="translate(503.9 232.13) scale(0.84 1)" font-family="'Liberation Sans',Arial,sans-serif" font-size="9" font-weight="bold" text-anchor="end" stroke="#000" stroke-width="0.15">0</text>
<text transform="translate(503.9 201.19) scale(0.84 1)" font-family="'Liberation Sans',Arial,sans-serif" font-size="9" font-weight="bold" text-anchor="end" stroke="#000" stroke-width="0.15">40</text>
<text transform="translate(503.9 170.24) scale(0.84 1)" font-family="'Liberation Sans',Arial,sans-serif" font-size="9" font-weight="bold" text-anchor="end" stroke="#000" stroke-width="0.15">80</text>
<text transform="translate(503.9 139.29) scale(0.84 1)" font-family="'Liberation Sans',Arial,sans-serif" font-size="9" font-weight="bold" text-anchor="end" stroke="#000" stroke-width="0.15">120</text>
<text transform="translate(503.9 108.35) scale(0.84 1)" font-family="'Liberation Sans',Arial,sans-serif" font-size="9" font-weight="bold" text-anchor="end" stroke="#000" stroke-width="0.15">160</text>
<text transform="translate(503.9 77.4) scale(0.84 1)" font-family="'Liberation Sans',Arial,sans-serif" font-size="9" font-weight="bold" text-anchor="end" stroke="#000" stroke-width="0.15">200</text>
<text transform="translate(528.7 247.3) scale(0.84 1)" font-family="'Liberation Sans',Arial,sans-serif" font-size="9" font-weight="bold" text-anchor="middle" stroke="#000" stroke-width="0.15">0</text>
<text transform="translate(565.9 247.3) scale(0.84 1)" font-family="'Liberation Sans',Arial,sans-serif" font-size="9" font-weight="bold" text-anchor="middle" stroke="#000" stroke-width="0.15">1</text>
<text transform="translate(603.1 247.3) scale(0.84 1)" font-family="'Liberation Sans',Arial,sans-serif" font-size="9" font-weight="bold" text-anchor="middle" stroke="#000" stroke-width="0.15">2</text>
<text transform="translate(640.3 247.3) scale(0.84 1)" font-family="'Liberation Sans',Arial,sans-serif" font-size="9" font-weight="bold" text-anchor="middle" stroke="#000" stroke-width="0.15">3</text>
<text transform="translate(677.5 247.3) scale(0.84 1)" font-family="'Liberation Sans',Arial,sans-serif" font-size="9" font-weight="bold" text-anchor="middle" stroke="#000" stroke-width="0.15">4</text>
<text transform="translate(603.8 257.2) scale(0.91 1)" font-family="'Liberation Serif','Times New Roman',serif" font-size="11.75" font-weight="bold" text-anchor="middle" stroke="#000" stroke-width="0.2">Dimensionless Position (<tspan font-style="italic">x</tspan>/<tspan font-style="italic">T</tspan>)</text>
<text transform="translate(487.1 158.5) rotate(-90) scale(1 0.91)" font-family="'Liberation Serif','Times New Roman',serif" font-size="11.75" font-weight="bold" text-anchor="middle" stroke="#000" stroke-width="0.2">F/WT (<tspan font-style="italic">mN/mm</tspan><tspan font-style="italic" font-size="7" dy="-5.5">2</tspan><tspan dy="5.5">)</tspan></text>
</svg>
</body></html>
